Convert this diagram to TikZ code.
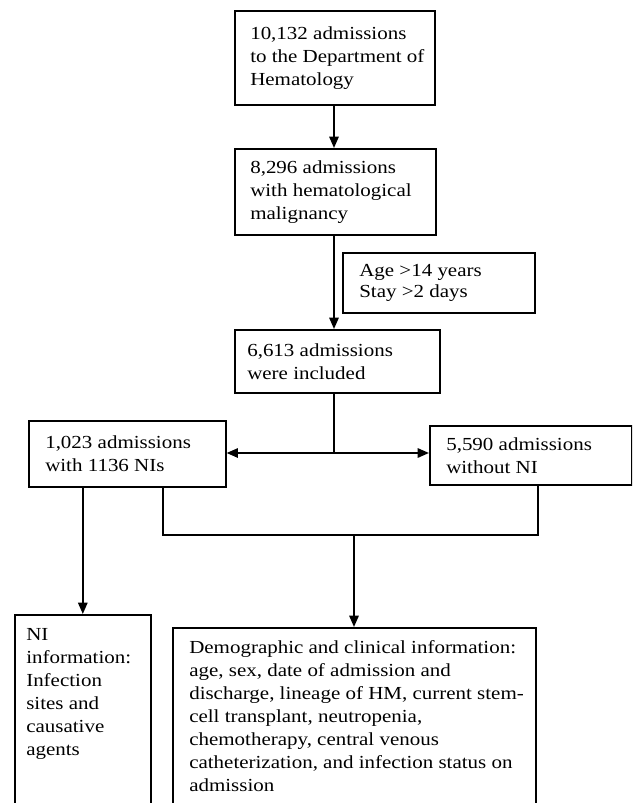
\documentclass[tikz,border=0pt]{standalone}
\usepackage{fontspec}
\setmainfont{Liberation Serif}[FakeStretch=1.14]
\usetikzlibrary{arrows.meta}
\begin{document}
\begin{tikzpicture}[x=0.75pt, y=-0.75pt,
  font=\fontsize{13.8}{17.25}\selectfont,
  box/.style={draw, line width=1.2pt, inner sep=0pt, anchor=north west},
  txt/.style={inner sep=0pt, align=left},
  arr/.style={line width=1.4pt, -{Triangle[length=8.5pt,width=7pt]}},
  darr/.style={line width=1.4pt, {Triangle[length=8.5pt,width=7pt]}-{Triangle[length=8.5pt,width=7pt]}},
  thinln/.style={line width=0.8pt}]
\fill[white] (0,0) rectangle (632,803);
\useasboundingbox (0,0) rectangle (632,803);
\clip (0,0) rectangle (632,803);

% boxes
\node[box, minimum width=150pt, minimum height=70.5pt] (top) at (234,10) {};
\node[txt, anchor=west] (toptx) at ([xshift=12pt]top.west) {10,132 admissions\\to the Department of\\Hematology};

\node[box, minimum width=150.75pt, minimum height=64.5pt] (second) at (234,148) {};
\node[txt, anchor=west] (secondtx) at ([xshift=12pt]second.west) {8,296 admissions\\with hematological\\malignancy};

\node[box, minimum width=144pt, minimum height=45pt] (excl) at (342,252) {};
\node[txt, anchor=west, font=\fontsize{13.8}{15.75}\selectfont] (excltx) at ([xshift=12.75pt]excl.west) {Age >14 years\\Stay >2 days};

\node[box, minimum width=153.75pt, minimum height=47.25pt] (third) at (234,329) {};
\node[txt, anchor=west] (thirdtx) at ([xshift=9.75pt]third.west) {6,613 admissions\\were included};

\node[box, minimum width=147.75pt, minimum height=49.5pt] (left) at (28,420) {};
\node[txt, anchor=west] (lefttx) at ([xshift=12.75pt]left.west) {1,023 admissions\\with 1136 NIs};

\node[box, minimum width=151.5pt, minimum height=44.25pt] (right) at (429,425) {};
\node[txt, anchor=west] (righttx) at ([xshift=12.75pt]right.west) {5,590 admissions\\without NI};

\node[box, minimum width=102pt, minimum height=160pt] (nib) at (14,614) {};
\node[txt, anchor=north west] (nibtx) at ([xshift=9pt, yshift=-11pt]nib.north west) {NI\\information:\\Infection\\sites and\\causative\\agents};

\node[box, minimum width=272.25pt, minimum height=150pt] (dem) at (172,627) {};
\node[txt, anchor=north west] (demtx) at ([xshift=12.75pt, yshift=-10pt]dem.north west) {Demographic and clinical information:\\age, sex, date of admission and\\discharge, lineage of HM, current stem-\\cell transplant, neutropenia,\\chemotherapy, central venous\\catheterization, and infection status on\\admission};

% connectors
\coordinate (j) at (334,453);
\coordinate (lb) at (163,535);
\coordinate (rb) at (538,535);
\coordinate (mb) at (354,535);

\draw[arr] (top.south -| j) -- (second.north -| j);
\draw[arr] (second.south -| j) -- (third.north -| j);
\draw[thinln] (third.south -| j) -- (j);
\draw[darr] (j -| left.east) -- (j -| right.west);
\draw[thinln] (left.south -| lb) -- (lb) -- (rb) -- (right.south -| rb);
\draw[arr] (mb) -- (dem.north -| mb);
\draw[arr] (left.south -| nib.north) -- (nib.north);
\end{tikzpicture}
\end{document}
